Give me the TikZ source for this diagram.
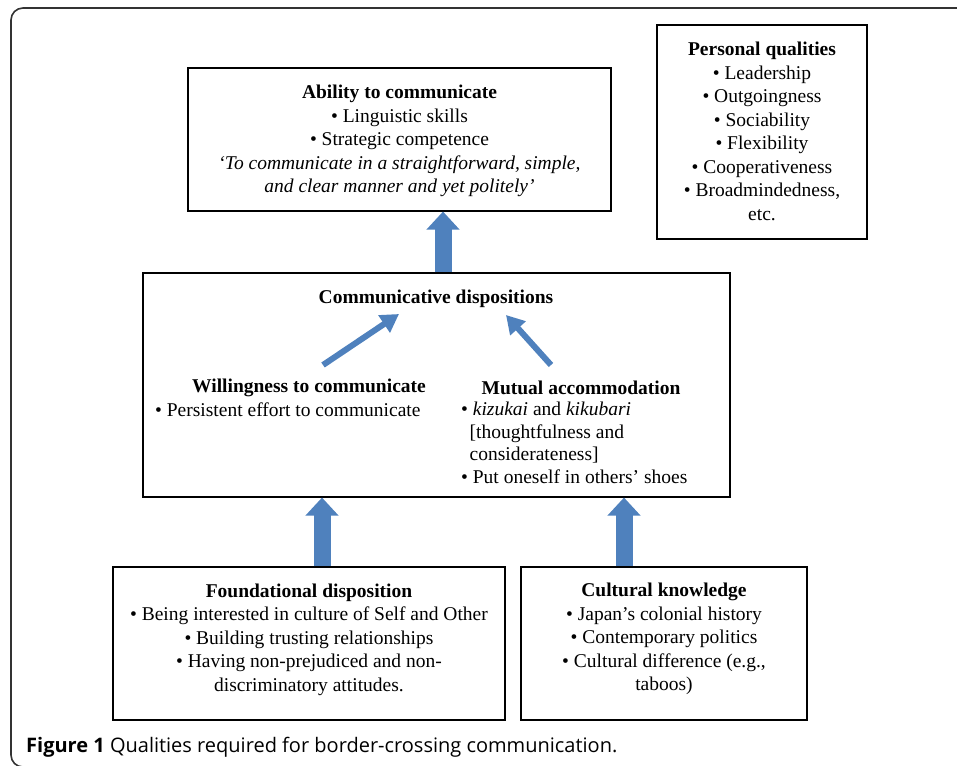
\documentclass[tikz,border=0pt]{standalone}
\usepackage{fontspec}
\setmainfont{Liberation Serif}
\newfontfamily\capfont{Open Sans}
\usetikzlibrary{arrows.meta,calc}
\definecolor{arrblue}{HTML}{4F81BD}
\definecolor{framegray}{HTML}{333333}
\tikzset{
  box/.style={draw=black, line width=1.1pt, inner sep=0pt},
  txt/.style={inner sep=0pt, align=center, font=\fontsize{19.5}{23.5}\selectfont},
  ltxt/.style={inner sep=0pt, align=left, font=\fontsize{19.5}{22.5}\selectfont},
  bigarrow/.style={draw=arrblue, line width=17pt, -{Triangle[width=32pt,length=18pt]}},
  smallarrow/.style={draw=arrblue, line width=6pt, -{Triangle[width=20pt,length=18pt]}},
}
\begin{document}
\begin{tikzpicture}[x=1pt,y=-1pt]
\useasboundingbox (0,0) rectangle (957,765);
\clip (0,0) rectangle (957,765);
% outer frame
\draw[framegray, line width=1.6pt, rounded corners=12pt] (970,8) -- (11,8) -- (11,767) -- (970,767);
% boxes
\node[box, minimum width=423pt, minimum height=143pt] (ability) at (399.5,139.5) {};
\node[box, minimum width=210pt, minimum height=214pt] (personal) at (762,132) {};
\node[box, minimum width=587pt, minimum height=224pt] (comm) at (436.5,385) {};
\node[box, minimum width=392pt, minimum height=153pt] (found) at (309,643.5) {};
\node[box, minimum width=286pt, minimum height=153pt] (cult) at (664,643.5) {};
% texts
\node[txt] (abilitytxt) at (399.5,141) {\textbf{Ability to communicate}\\ • Linguistic skills\\ • Strategic competence\\ \textit{‘To communicate in a straightforward, simple,}\\ \textit{and clear manner and yet politely’}};
\node[txt] (personaltxt) at (762,131.5) {\textbf{Personal qualities}\\ • Leadership\\ • Outgoingness\\ • Sociability\\ • Flexibility\\ • Cooperativeness\\ • Broadmindedness,\\ etc.};
\node[txt] (commtitle) at (436,298.5) {\textbf{Communicative dispositions}};
\node[txt] (willtitle) at (309,387.5) {\textbf{Willingness to communicate}};
\node[ltxt, anchor=west] (willtxt) at (155,409.5) {• Persistent effort to communicate};
\node[txt] (mutualtitle) at (581,387.5) {\textbf{Mutual accommodation}};
\node[ltxt, anchor=west] (mutualtxt) at (461,443) {• \textit{kizukai} and \textit{kikubari}\\ \hspace*{8.5pt}[thoughtfulness and\\ \hspace*{8.5pt}considerateness]\\ • Put oneself in others’ shoes};
\node[txt] (foundtxt) at (309,639.5) {\textbf{Foundational disposition}\\ • Being interested in culture of Self and Other\\ • Building trusting relationships\\ • Having non-prejudiced and non-\\ discriminatory attitudes.};
\node[txt] (culttxt) at (664,639) {\textbf{Cultural knowledge}\\ • Japan’s colonial history\\ • Contemporary politics\\ • Cultural difference (e.g.,\\ taboos)};
% caption
\node[inner sep=0pt, anchor=base west, font=\capfont\fontsize{20}{23}\selectfont] (caption) at (26,752) {\textbf{Figure 1} Qualities required for border-crossing communication.};
% arrows
\coordinate (wtail) at (323,365);
\coordinate (whead) at (399,314);
\coordinate (mtail) at (551,365);
\coordinate (mhead) at (506,315);
\draw[bigarrow] ([xshift=6.5pt]comm.north) -- ([xshift=6.5pt]comm.north |- ability.south);
\draw[smallarrow] (wtail) -- (whead);
\draw[smallarrow] (mtail) -- (mhead);
\draw[bigarrow] ([xshift=13pt]found.north) -- ([xshift=13pt]found.north |- comm.south);
\draw[bigarrow] ([xshift=-40pt]cult.north) -- ([xshift=-40pt]cult.north |- comm.south);
\end{tikzpicture}
\end{document}
